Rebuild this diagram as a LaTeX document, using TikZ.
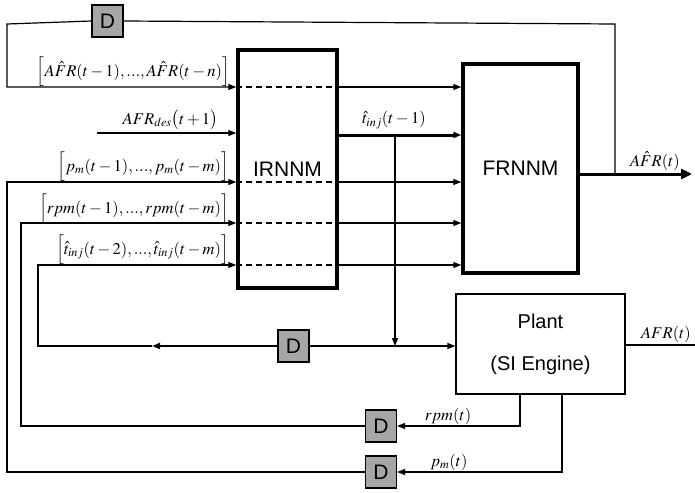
\documentclass[tikz,border=0pt]{standalone}
\usepackage{mathptmx}
\usepackage[no-math]{fontspec}
\newfontfamily\arial{Liberation Sans}
\usetikzlibrary{arrows.meta}
\definecolor{dgray}{RGB}{166,166,166}
\begin{document}
\begin{tikzpicture}[x=1pt,y=-1pt,
  wire/.style={line width=1.2pt},
  bold/.style={line width=3pt},
  tipped/.style={-{Triangle[length=8pt,width=6pt]}},
  bigtip/.style={-{Triangle[length=11pt,width=10pt]}},
  dash line/.style={line width=1.2pt, dash pattern=on 6pt off 4pt},
  dbox/.style={draw,line width=1.2pt,fill=dgray,minimum width=31pt,minimum height=32pt,inner sep=0pt,font=\arial\fontsize{21}{24}\selectfont},
  nnbox/.style={draw,line width=3.5pt,inner sep=0pt,font=\arial\fontsize{21}{24}\selectfont},
  lbl/.style={inner sep=0pt,font=\fontsize{16.5}{20}\selectfont}
]
\useasboundingbox (0,0) rectangle (695,492);
% blocks
\node[nnbox,minimum width=99pt,minimum height=238pt] (ir) at (287.5,169) {IRNNM};
\node[nnbox,minimum width=115pt,minimum height=209pt] (fr) at (520.5,168.5) {FRNNM};
\node[draw,line width=1.2pt,minimum width=169pt,minimum height=100pt,align=center,inner sep=0pt,
      font=\arial\fontsize{20}{42}\selectfont] (plant) at (540.5,344) {Plant\\(SI Engine)};
\node[dbox] (dtop) at (107.5,21) {D};
\node[dbox] (dmid) at (293.5,346) {D};
\node[dbox] (drpm) at (381,426) {D};
\node[dbox] (dpm) at (381,472) {D};
% coordinates
\coordinate (fb) at (615,174);
\coordinate (out) at (692,174);
\coordinate (tap) at (395,135);
\coordinate (jn) at (395,346);
\coordinate (desin) at (97,133);
\coordinate (marr) at (152,346);
\coordinate (plout) at (695,345);
\coordinate (rpmtap) at ([xshift=-20.5pt]plant.south);
\coordinate (pmtap) at ([xshift=21.5pt]plant.south);
% output and top feedback
\draw[bold,bigtip] (fr.east |- fb) -- (out);
\draw[wire] (fb) -- (615,24) -- (dtop.east);
\draw[wire,tipped] (dtop.west) -- (7,24) -- (7,87) -- (ir.west |- 0,87);
% rows through IRNNM to FRNNM
\foreach \yy in {87,182,223,265} {
  \draw[dash line] (ir.west |- 0,\yy) -- (ir.east |- 0,\yy);
  \draw[wire,tipped] (ir.east |- 0,\yy) -- (fr.west |- 0,\yy);
}
\draw[wire,tipped] (desin) -- (ir.west |- desin);
\draw[bold,tipped] (ir.east |- tap) -- (fr.west |- tap);
% injection time to plant and delay
\draw[wire,tipped] (tap) -- (jn);
\draw[wire,tipped] (jn) -- (plant.west |- jn);
\draw[wire] (jn) -- (dmid.east);
\draw[line width=1.8pt,tipped] (dmid.west) -- (marr);
\draw[wire,tipped] (marr) -- (38,346) -- (38,265) -- (ir.west |- 0,265);
% plant output
\draw[wire] (plant.east |- 0,345) -- (plout);
% rpm and pm feedback
\draw[wire,tipped] (rpmtap) |- (drpm.east);
\draw[wire,tipped] (drpm.west) -- (21,426) -- (21,223) -- (ir.west |- 0,223);
\draw[wire,tipped] (pmtap) |- (dpm.east);
\draw[wire,tipped] (dpm.west) -- (7,472) -- (7,182) -- (ir.west |- 0,182);
% labels
\node[lbl,anchor=east] (l1) at (230,72) {$\Bigl[A\hat{F}R(t-1),...,A\hat{F}R(t-n)\Bigr]$};
\node[lbl,anchor=east] (l2) at (218,120) {$AFR_{des}\bigl(t+1\bigr)$};
\node[lbl,anchor=east] (l3) at (229,167) {$\Bigl[p_m(t-1),...,p_m(t-m)\Bigr]$};
\node[lbl,anchor=east] (l4) at (229,209) {$\Bigl[rpm(t-1),...,rpm(t-m)\Bigr]$};
\node[lbl,anchor=east] (l5) at (229,250) {$\Bigl[\hat{t}_{inj}(t-2),...,\hat{t}_{inj}(t-m)\Bigr]$};
\node[lbl] (l6) at (394,120) {$\hat{t}_{inj}(t-1)$};
\node[lbl] (l7) at (655,161) {$A\hat{F}R(t)$};
\node[lbl] (l8) at (666,334) {$AFR(t)$};
\node[lbl] (l9) at (448,416) {$rpm(t)$};
\node[lbl] (l10) at (449,462) {$p_m(t)$};
\end{tikzpicture}
\end{document}
